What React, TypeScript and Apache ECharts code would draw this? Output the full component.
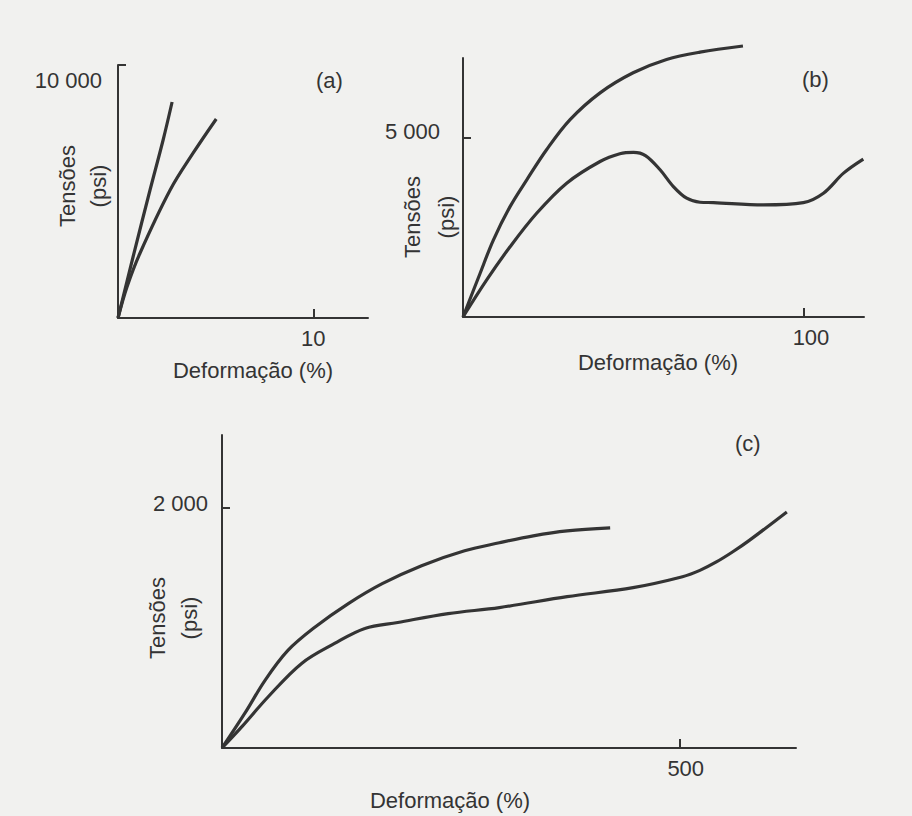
import { useEffect, useRef } from "react";
import * as echarts from "echarts";

// ---------- data ----------
// panel (a): strain (%) vs stress (psi)
const aXTicks = [10];
const aYTicks = [10000];
const aCurve1: [number, number][] = [
  [0, 0], [0.77, 2411], [1.64, 5059], [2.31, 7036], [2.77, 8538],
];
const aCurve2: [number, number][] = [
  [0, 0], [0.46, 1225], [1.13, 2569], [2.67, 5059], [3.85, 6522], [5.03, 7866],
];

// panel (b)
const bXTicks = [100];
const bYTicks = [5000];
const bCurve1: [number, number][] = [
  [0, 0], [5.0, 1216], [8.9, 2150], [13.8, 3083], [18.7, 3831], [24.5, 4672],
  [31.4, 5513], [40.2, 6261], [49.9, 6822], [59.7, 7195], [69.5, 7399],
  [82.1, 7570],
];
const bCurve2: [number, number][] = [
  [0, 0], [6.9, 1029], [13.8, 1962], [21.6, 2898], [30.4, 3739], [40.2, 4344],
  [46.0, 4560], [50.0, 4600], [53.5, 4510], [57.8, 4112], [61.7, 3644],
  [65.6, 3318], [69.5, 3206], [73.5, 3195], [88.1, 3131], [99.8, 3195],
  [105.7, 3458], [111.6, 4019], [117.4, 4411],
];

// panel (c)
const cXTicks = [500];
const cYTicks = [2000];
const cCurve1: [number, number][] = [
  [0, 0], [25, 290], [47, 564], [72, 813], [101, 1004], [138, 1203],
  [175, 1369], [218, 1519], [265, 1643], [303, 1710], [340, 1768],
  [377, 1809], [424, 1834],
];
const cCurve2: [number, number][] = [
  [0, 0], [22, 180], [50, 423], [87, 705], [123, 871], [156, 996],
  [192, 1046], [247, 1120], [303, 1170], [377, 1261], [449, 1336],
  [503, 1427], [522, 1480], [540, 1550], [558, 1635], [576, 1730], [617, 1967],
];

const panelLabels = ["(a)", "(b)", "(c)"];
const xName = "Deformação (%)";
const yName = "Tensões\n(psi)";

const FONT = "'Liberation Sans', Arial, sans-serif";
const INK = "#343434";
const FS = 22;

const fmtThousands = (v: number) =>
  String(v).replace(/\B(?=(\d{3})+(?!\d))/g, " ");

function makeX(gridIndex: number, max: number, ticks: number[], labelPad: number[], namePad: number[], nameGap: number) {
  return {
    type: "value",
    gridIndex,
    min: 0,
    max,
    name: xName,
    nameLocation: "middle",
    nameGap,
    nameMoveOverlap: false,
    nameTextStyle: { color: INK, fontSize: FS, fontFamily: FONT, padding: namePad },
    axisLine: { show: true, lineStyle: { color: INK, width: 2 } },
    axisTick: { show: true, inside: true, length: 9, customValues: ticks, lineStyle: { color: INK, width: 2 } },
    axisLabel: { show: true, customValues: ticks, margin: 9, color: INK, fontSize: FS, fontFamily: FONT, padding: labelPad, formatter: (v: number) => fmtThousands(v) },
    splitLine: { show: false },
  };
}

function makeY(gridIndex: number, max: number, ticks: number[], vAlign: string, labelLH: number, margin: number, namePad: number[], nameGap: number, lineHeight: number) {
  return {
    type: "value",
    gridIndex,
    min: 0,
    max,
    name: yName,
    nameLocation: "middle",
    nameRotate: 90,
    nameGap,
    nameMoveOverlap: false,
    nameTextStyle: { color: INK, fontSize: FS, fontFamily: FONT, lineHeight, padding: namePad },
    axisLine: { show: true, lineStyle: { color: INK, width: 2 } },
    axisTick: { show: true, inside: true, length: 8, customValues: ticks, lineStyle: { color: INK, width: 2 } },
    axisLabel: { show: true, customValues: ticks, margin, color: INK, fontSize: FS, fontFamily: FONT, verticalAlign: vAlign, lineHeight: labelLH, formatter: (v: number) => fmtThousands(v) },
    splitLine: { show: false },
  };
}

function curve(name: string, idx: number, data: [number, number][]) {
  return {
    type: "line",
    name,
    xAxisIndex: idx,
    yAxisIndex: idx,
    data,
    showSymbol: false,
    symbol: "none",
    smooth: 0.35,
    clip: false,
    lineStyle: { color: INK, width: 3.2 },
  };
}

export default function App() {
  const ref = useRef<HTMLDivElement>(null);
  useEffect(() => {
    if (!ref.current) return;
    const chart = echarts.init(ref.current, null, { renderer: "svg" });
    chart.setOption({
      animation: false,
      backgroundColor: "#f1f1ef",
      title: [
        { text: panelLabels[0], left: 316, top: 69, padding: 0, textStyle: { color: INK, fontSize: FS, fontWeight: "normal", fontFamily: FONT } },
        { text: panelLabels[1], left: 802, top: 68, padding: 0, textStyle: { color: INK, fontSize: FS, fontWeight: "normal", fontFamily: FONT } },
        { text: panelLabels[2], left: 735, top: 432, padding: 0, textStyle: { color: INK, fontSize: FS, fontWeight: "normal", fontFamily: FONT } },
      ],
      grid: [
        { left: 118, top: 65, width: 250, height: 253, outerBoundsMode: "none", containLabel: false },
        { left: 463, top: 58, width: 401, height: 259, outerBoundsMode: "none", containLabel: false },
        { left: 222, top: 435, width: 574, height: 313, outerBoundsMode: "none", containLabel: false },
      ],
      xAxis: [
        makeX(0, 12.8, aXTicks, [0, 0, 0, 0], [0, 0, 0, 20], 41),
        makeX(1, 117.6, bXTicks, [0, 0, 0, 14], [0, 11, 0, 0], 34),
        makeX(2, 627, cXTicks, [0, 0, 0, 12], [0, 118, 0, 0], 41),
      ],
      yAxis: [
        makeY(0, 10000, aYTicks, "top", 30, 16, [0, 0, 0, 11], 4, 31),
        makeY(1, 7235, bYTicks, "bottom", 14, 23, [0, 59, 0, 0], 0, 34),
        makeY(2, 2608, cYTicks, "bottom", 9, 14, [0, 53, 0, 0], 17, 32),
      ],
      series: [
        curve("a1", 0, aCurve1),
        curve("a2", 0, aCurve2),
        curve("b1", 1, bCurve1),
        curve("b2", 1, bCurve2),
        curve("c1", 2, cCurve1),
        curve("c2", 2, cCurve2),
      ],
    });
    return () => chart.dispose();
  }, []);
  return (
    <div
      ref={ref}
      style={{ position: "absolute", left: 0, top: 0, width: 912, height: 816 }}
    />
  );
}
